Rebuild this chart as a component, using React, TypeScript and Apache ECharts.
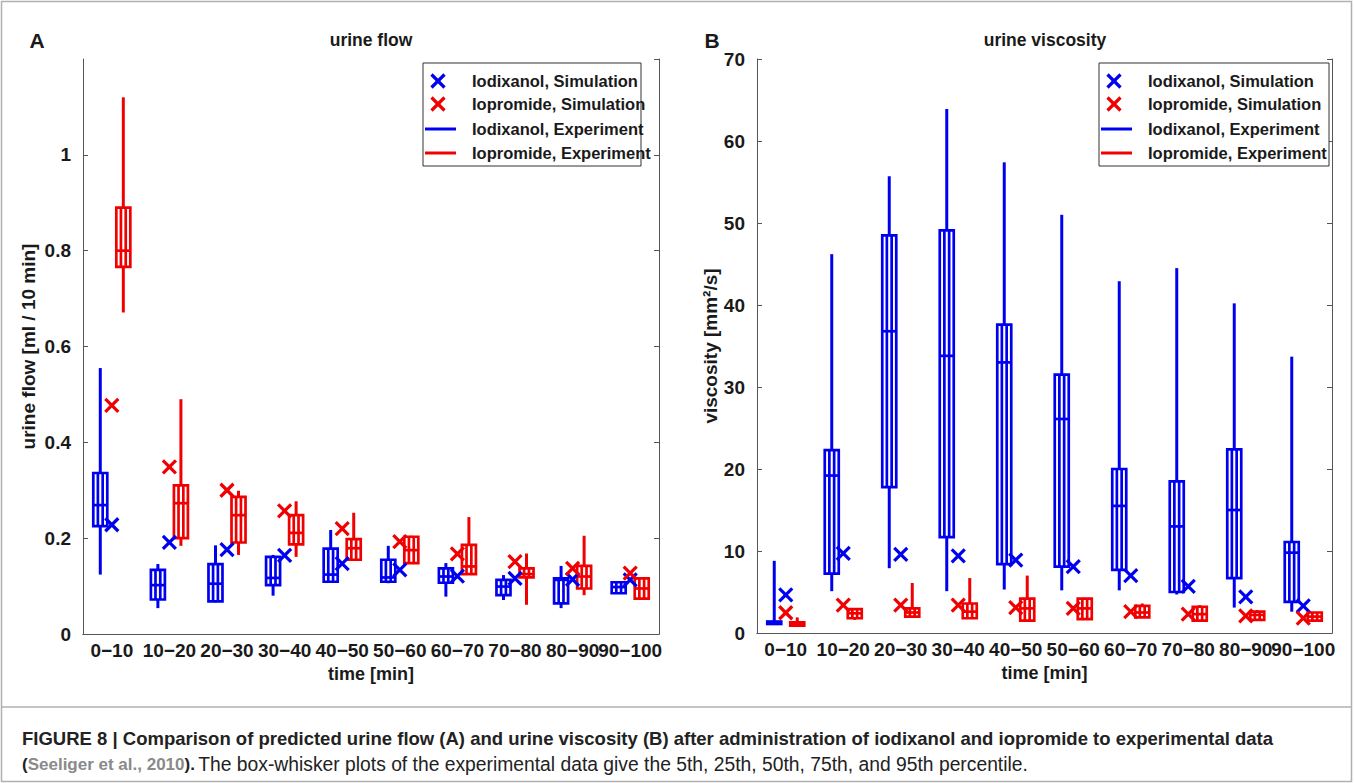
import React, { useEffect, useRef } from "react";
import * as echarts from "echarts";

const categories = ["0−10", "10−20", "20−30", "30−40", "40−50", "50−60", "60−70", "70−80", "80−90", "90−100"];

// [5th, 25th, 50th, 75th, 95th]
const flowIodixanolExp = [
  [0.124, 0.225, 0.269, 0.336, 0.555],
  [0.054, 0.072, 0.102, 0.134, 0.146],
  [0.066, 0.068, 0.105, 0.146, 0.185],
  [0.08, 0.102, 0.117, 0.161, 0.165],
  [0.109, 0.109, 0.124, 0.178, 0.217],
  [0.106, 0.109, 0.118, 0.155, 0.184],
  [0.078, 0.107, 0.12, 0.137, 0.148],
  [0.071, 0.081, 0.099, 0.113, 0.123],
  [0.054, 0.064, 0.113, 0.116, 0.142],
  [0.085, 0.085, 0.098, 0.108, 0.108],
];
const flowIopromideExp = [
  [0.671, 0.766, 0.8, 0.89, 1.12],
  [0.184, 0.2, 0.273, 0.31, 0.49],
  [0.165, 0.191, 0.248, 0.286, 0.299],
  [0.161, 0.187, 0.211, 0.248, 0.277],
  [0.155, 0.155, 0.179, 0.198, 0.253],
  [0.148, 0.148, 0.175, 0.203, 0.205],
  [0.125, 0.125, 0.141, 0.186, 0.244],
  [0.061, 0.118, 0.125, 0.137, 0.168],
  [0.081, 0.095, 0.12, 0.142, 0.205],
  [0.074, 0.074, 0.095, 0.116, 0.116],
];
const flowIodixanolSim = [0.228, 0.191, 0.176, 0.164, 0.147, 0.134, 0.121, 0.116, 0.114, 0.113];
const flowIopromideSim = [0.477, 0.349, 0.3, 0.257, 0.22, 0.193, 0.167, 0.151, 0.137, 0.127];

const viscIodixanolExp = [
  [1.1, 1.1, 1.2, 1.4, 8.8],
  [5.1, 7.25, 19.2, 22.3, 46.2],
  [7.9, 17.8, 36.8, 48.5, 55.7],
  [5.1, 11.7, 33.8, 49.1, 63.9],
  [5.3, 8.4, 33.0, 37.6, 57.4],
  [5.2, 8.1, 26.1, 31.5, 51.0],
  [5.2, 7.7, 15.5, 20.0, 42.9],
  [4.7, 5.0, 13.0, 18.5, 44.5],
  [3.1, 6.7, 15.0, 22.4, 40.2],
  [2.6, 3.8, 9.8, 11.1, 33.7],
];
const viscIopromideExp = [
  [0.8, 0.9, 1.1, 1.3, 1.9],
  [1.6, 1.8, 2.4, 2.9, 3.0],
  [2.0, 2.0, 2.5, 3.0, 6.1],
  [1.8, 1.8, 2.6, 3.6, 6.7],
  [1.5, 1.5, 3.0, 4.2, 7.0],
  [1.7, 1.7, 3.0, 4.2, 4.3],
  [1.9, 1.9, 2.5, 3.3, 3.6],
  [1.5, 1.5, 2.3, 3.2, 3.4],
  [1.6, 1.6, 2.2, 2.6, 2.8],
  [1.5, 1.5, 2.0, 2.5, 2.5],
];
const viscIodixanolSim = [4.65, 9.7, 9.6, 9.4, 8.9, 8.1, 7.0, 5.7, 4.4, 3.3];
const viscIopromideSim = [2.47, 3.4, 3.4, 3.4, 3.1, 3.0, 2.6, 2.3, 2.1, 1.8];

const flowTicks = { min: 0, max: 1.2, interval: 0.2 };
const viscTicks = { min: 0, max: 70, interval: 10 };

const legendLabels = ["Iodixanol, Simulation", "Iopromide, Simulation", "Iodixanol, Experiment", "Iopromide, Experiment"];

const BLUE = "#0000f0";
const RED = "#f00000";
const FONT = "'Liberation Sans', Arial, Helvetica, sans-serif";
const AXIS_COLOR = "#555";
const TXT = "#1a1a1a";

function boxRender(offset: number, color: string) {
  return (params: any, api: any) => {
    const idx = api.value(0);
    const bw = api.size([1, 0])[0];
    const cx = api.coord([idx, 0])[0] + offset * bw;
    const y = (k: number) => api.coord([idx, api.value(k)])[1];
    const lo = y(1), q1 = y(2), med = y(3), q3 = y(4), hi = y(5);
    const hw = 7;
    const iw = 2.4;
    const st = { stroke: color, lineWidth: 2.7, fill: "none" };
    const ln = (x1: number, y1: number, x2: number, y2: number, w = 2.7) => ({
      type: "line",
      shape: { x1, y1, x2, y2 },
      style: { ...st, lineWidth: w },
    });
    return {
      type: "group",
      children: [
        ln(cx, hi, cx, q3, 3),
        ln(cx, q1, cx, lo, 3),
        { type: "rect", shape: { x: cx - hw, y: q3, width: hw * 2, height: q1 - q3 }, style: st },
        ln(cx - iw, q3, cx - iw, q1),
        ln(cx + iw, q3, cx + iw, q1),
        ln(cx - hw, med, cx + hw, med),
      ],
    };
  };
}

function crossRender(color: string) {
  return (params: any, api: any) => {
    const p = api.coord([api.value(0), api.value(1)]);
    const s = 6.5;
    const st = { stroke: color, lineWidth: 3.2, fill: "none" };
    return {
      type: "group",
      children: [
        { type: "line", shape: { x1: p[0] - s, y1: p[1] - s, x2: p[0] + s, y2: p[1] + s }, style: st },
        { type: "line", shape: { x1: p[0] - s, y1: p[1] + s, x2: p[0] + s, y2: p[1] - s }, style: st },
      ],
    };
  };
}

function legendGraphic(x0: number, y0: number, w: number, h: number, symX: number, textX: number) {
  const rows = [y0 + 18, y0 + 41, y0 + 66, y0 + 90];
  const colors = [BLUE, RED, BLUE, RED];
  const els: any[] = [
    { type: "rect", shape: { x: x0, y: y0, width: w, height: h }, style: { fill: "#fff", stroke: "#333", lineWidth: 1 }, z: 50 },
  ];
  rows.forEach((ry, i) => {
    const c = colors[i];
    if (i < 2) {
      const s = 6.5;
      els.push({ type: "line", shape: { x1: symX - s, y1: ry - s, x2: symX + s, y2: ry + s }, style: { stroke: c, lineWidth: 3.2 }, z: 51 });
      els.push({ type: "line", shape: { x1: symX - s, y1: ry + s, x2: symX + s, y2: ry - s }, style: { stroke: c, lineWidth: 3.2 }, z: 51 });
    } else {
      els.push({ type: "line", shape: { x1: symX - 13, y1: ry, x2: symX + 18, y2: ry }, style: { stroke: c, lineWidth: 3 }, z: 51 });
    }
    els.push({
      type: "text",
      x: textX,
      y: ry,
      style: { text: legendLabels[i], fill: TXT, font: `bold 16.5px ${FONT}`, textVerticalAlign: "middle", textAlign: "left" },
      z: 51,
    });
  });
  return els;
}

function xAxes(gridIndex: number) {
  const common = {
    type: "category",
    data: categories,
    gridIndex,
    boundaryGap: true,
    axisLine: { lineStyle: { color: AXIS_COLOR, width: 1 } },
    axisTick: { alignWithLabel: true, inside: true, length: 5, lineStyle: { color: AXIS_COLOR } },
    splitLine: { show: false },
  };
  return [
    {
      ...common,
      position: "bottom",
      axisLabel: { interval: 0, fontSize: 19, fontWeight: "bold", color: TXT, fontFamily: FONT, margin: 7, hideOverlap: false },
      name: "time [min]",
      nameLocation: "middle",
      nameGap: 29,
      nameTextStyle: { fontSize: 18, fontWeight: "bold", color: TXT, fontFamily: FONT },
    },
    { ...common, position: "top", axisLabel: { show: false } },
  ];
}

function yAxes(gridIndex: number, t: any, name: string, nameGap: number) {
  const common = {
    type: "value",
    gridIndex,
    min: t.min,
    max: t.max,
    interval: t.interval,
    axisLine: { show: true, lineStyle: { color: AXIS_COLOR, width: 1 } },
    axisTick: { show: true, inside: true, length: 5, lineStyle: { color: AXIS_COLOR } },
    splitLine: { show: false },
  };
  return [
    {
      ...common,
      position: "left",
      axisLabel: {
        fontSize: 19,
        fontWeight: "bold",
        color: TXT,
        fontFamily: FONT,
        margin: 12,
        showMaxLabel: t.max === 70,
        formatter: (v: number) => String(Math.round(v * 10) / 10),
      },
      name,
      nameLocation: "middle",
      nameGap,
      nameTextStyle: { fontSize: 19, fontWeight: "bold", color: TXT, fontFamily: FONT },
    },
    { ...common, position: "right", axisLabel: { show: false } },
  ];
}

function boxData(arr: number[][]) {
  return arr.map((r, i) => [i, ...r]);
}
function simData(arr: number[]) {
  return arr.map((v, i) => [i, v]);
}

export default function App() {
  const ref = useRef<HTMLDivElement>(null);
  useEffect(() => {
    if (!ref.current) return;
    const chart = echarts.init(ref.current, null, { renderer: "svg" });
    const mkBox = (data: number[][], xi: number, yi: number, off: number, color: string, name: string) => ({
      type: "custom",
      name,
      xAxisIndex: xi,
      yAxisIndex: yi,
      renderItem: boxRender(off, color),
      encode: { x: 0, y: [1, 2, 3, 4, 5] },
      data: boxData(data),
      z: 5,
    });
    const mkSim = (data: number[], xi: number, yi: number, color: string, name: string) => ({
      type: "custom",
      name,
      xAxisIndex: xi,
      yAxisIndex: yi,
      renderItem: crossRender(color),
      encode: { x: 0, y: 1 },
      data: simData(data),
      z: 6,
    });
    const option: any = {
      animation: false,
      backgroundColor: "#fff",
      grid: [
        { left: 83, top: 59, width: 576, height: 575 },
        { left: 757, top: 59, width: 575, height: 574 },
      ],
      xAxis: [...xAxes(0), ...xAxes(1)],
      yAxis: [
        ...yAxes(0, flowTicks, "urine flow [ml / 10 min]", 45),
        ...yAxes(1, viscTicks, "viscosity [mm²/s]", 35),
      ],
      series: [
        mkBox(flowIodixanolExp, 0, 0, -0.2, BLUE, "Iodixanol, Experiment"),
        mkBox(flowIopromideExp, 0, 0, 0.2, RED, "Iopromide, Experiment"),
        mkSim(flowIodixanolSim, 0, 0, BLUE, "Iodixanol, Simulation"),
        mkSim(flowIopromideSim, 0, 0, RED, "Iopromide, Simulation"),
        mkBox(viscIodixanolExp, 2, 2, -0.2, BLUE, "Iodixanol, Experiment"),
        mkBox(viscIopromideExp, 2, 2, 0.2, RED, "Iopromide, Experiment"),
        mkSim(viscIodixanolSim, 2, 2, BLUE, "Iodixanol, Simulation"),
        mkSim(viscIopromideSim, 2, 2, RED, "Iopromide, Simulation"),
      ],
      graphic: [
        { type: "rect", shape: { x: 1.5, y: 1.5, width: 1350, height: 780 }, style: { fill: "none", stroke: "#b0b0b0", lineWidth: 1.5 }, z: 0 },
        { type: "line", shape: { x1: 1.5, y1: 707, x2: 1351.5, y2: 707 }, style: { stroke: "#b0b0b0", lineWidth: 1.5 } },
        { type: "text", x: 37, y: 40, style: { text: "A", font: `bold 21px ${FONT}`, fill: TXT, textAlign: "center", textVerticalAlign: "middle" } },
        { type: "text", x: 712, y: 40, style: { text: "B", font: `bold 21px ${FONT}`, fill: TXT, textAlign: "center", textVerticalAlign: "middle" } },
        { type: "text", x: 371, y: 40, style: { text: "urine flow", font: `bold 17.5px ${FONT}`, fill: TXT, textAlign: "center", textVerticalAlign: "middle" } },
        { type: "text", x: 1045, y: 40, style: { text: "urine viscosity", font: `bold 17.5px ${FONT}`, fill: TXT, textAlign: "center", textVerticalAlign: "middle" } },
        ...legendGraphic(423, 63, 218, 103, 438, 472),
        ...legendGraphic(1099, 63, 230, 103, 1114, 1148),
        {
          type: "text",
          x: 22,
          y: 738,
          style: {
            text: "FIGURE 8 | Comparison of predicted urine flow (A) and urine viscosity (B) after administration of iodixanol and iopromide to experimental data",
            font: `bold 18.5px ${FONT}`,
            fill: "#222",
            textVerticalAlign: "middle",
          },
        },
        {
          type: "text",
          x: 22,
          y: 764,
          style: {
            text: "{b|(}{g|Seeliger et al., 2010}{b|).} {n|The box-whisker plots of the experimental data give the 5th, 25th, 50th, 75th, and 95th percentile.}",
            textVerticalAlign: "middle",
            rich: {
              b: { font: `bold 17px ${FONT}`, fill: "#222" },
              g: { font: `bold 17px ${FONT}`, fill: "#8a8a8a" },
              n: { font: `19.3px ${FONT}`, fill: "#222" },
            },
          },
        },
      ],
    };
    chart.setOption(option);
    return () => chart.dispose();
  }, []);
  return (
    <div
      ref={ref}
      style={{ position: "absolute", left: 0, top: 0, width: 1354, height: 783, background: "#fff" }}
    />
  );
}
